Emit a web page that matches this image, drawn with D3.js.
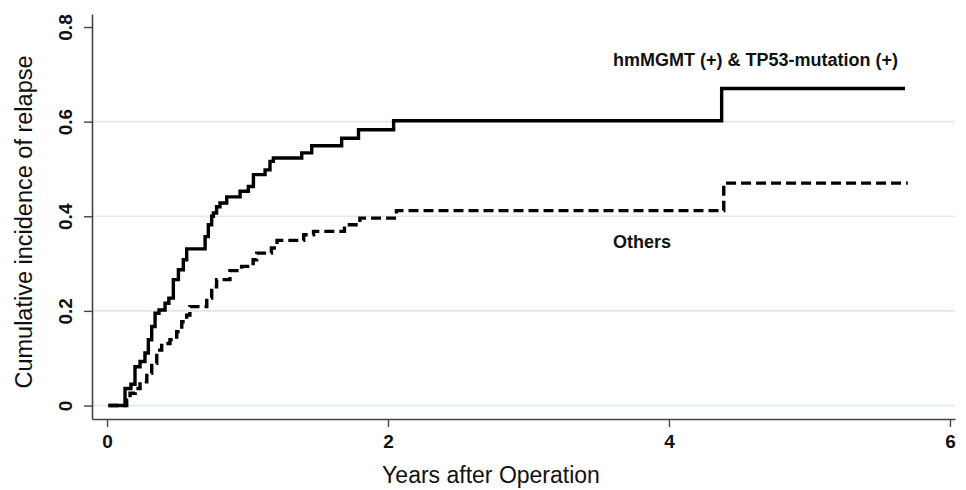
<!DOCTYPE html>
<html>
<head>
<meta charset="utf-8">
<script src="https://d3js.org/d3.v7.min.js"></script>
<style>
  body { margin: 0; background: #fff; }
  text { font-family: "Liberation Sans", Arial, sans-serif; fill: #111; }
</style>
</head>
<body>
<div class="chart-container"></div>
<script>
// step points for hmMGMT(+) & TP53-mutation(+)
var posYears = [0.01, 0.128, 0.17, 0.199, 0.235, 0.27, 0.294, 0.318, 0.342, 0.37, 0.413, 0.44, 0.472, 0.508, 0.543, 0.567,
  0.698, 0.721, 0.745, 0.757, 0.78, 0.804, 0.852, 0.947, 1.006, 1.042, 1.125, 1.16, 1.184, 1.386, 1.457, 1.67, 1.79, 2.04, 4.375, 5.68];
var posValues = [0, 0.036, 0.045, 0.082, 0.093, 0.111, 0.139, 0.167, 0.195, 0.202, 0.216, 0.227, 0.266, 0.287, 0.308, 0.331,
  0.357, 0.382, 0.400, 0.407, 0.42, 0.428, 0.441, 0.453, 0.463, 0.488, 0.498, 0.516, 0.523, 0.534, 0.549, 0.565, 0.583, 0.602, 0.670, 0.670];

// step points for Others
var othYears = [0.01, 0.14, 0.164, 0.2, 0.235, 0.283, 0.318, 0.354, 0.389, 0.448, 0.496, 0.532, 0.567, 0.59, 0.71, 0.745,
  0.78, 0.875, 0.958, 1.04, 1.065, 1.17, 1.21, 1.40, 1.47, 1.69, 1.80, 2.06, 4.39, 5.70];
var othValues = [0, 0.011, 0.026, 0.036, 0.05, 0.068, 0.089, 0.117, 0.131, 0.139, 0.156, 0.177, 0.191, 0.209, 0.227, 0.251,
  0.266, 0.285, 0.294, 0.308, 0.322, 0.333, 0.349, 0.361, 0.368, 0.382, 0.396, 0.412, 0.470, 0.470];

var xTicks = [0, 2, 4, 6];
var yTicks = [0, 0.2, 0.4, 0.6, 0.8];
var gridTicks = [0, 0.2, 0.4, 0.6];

var width = 966, height = 490;

var svg = d3.select(".chart-container").append("svg")
    .attr("width", width)
    .attr("height", height);

var x = d3.scaleLinear().domain([-0.107, 6.036]).range([92, 955]);
var y = d3.scaleLinear().domain([-0.0285, 0.8275]).range([419, 14]);

// gridlines
svg.append("g")
    .selectAll("line")
    .data(gridTicks)
    .enter().append("line")
    .attr("x1", 93)
    .attr("x2", 955)
    .attr("y1", function(d) { return y(d); })
    .attr("y2", function(d) { return y(d); })
    .attr("stroke", "#dde9ea")
    .attr("stroke-width", 1.6);

var yAxis = svg.append("g")
    .attr("transform", "translate(92,0)")
    .call(d3.axisLeft(y).tickValues(yTicks).tickSize(8).tickSizeOuter(0).tickFormat(d3.format("")));

var xAxis = svg.append("g")
    .attr("transform", "translate(0,419)")
    .call(d3.axisBottom(x).tickValues(xTicks).tickSize(8).tickSizeOuter(0).tickFormat(d3.format("d")));

[yAxis, xAxis].forEach(function(a) {
  a.select(".domain").attr("stroke", "#444").attr("stroke-width", 1.6);
  a.selectAll(".tick line").attr("stroke", "#444").attr("stroke-width", 1.4);
  a.selectAll("text")
      .style("font-family", "'Liberation Sans', Arial, sans-serif")
      .style("font-size", "19px")
      .style("font-weight", "bold")
      .attr("fill", "#111");
});

yAxis.selectAll(".tick text")
    .attr("x", 0)
    .attr("dy", 0)
    .attr("text-anchor", "middle")
    .attr("transform", "translate(-20,0) rotate(-90)");

xAxis.selectAll(".tick text")
    .attr("y", 16)
    .attr("dy", "0.71em");

var line = d3.line()
    .x(function(d) { return x(d[0]); })
    .y(function(d) { return y(d[1]); })
    .curve(d3.curveStepAfter);

var posData = d3.zip(posYears, posValues);
var othData = d3.zip(othYears, othValues);

svg.append("path")
    .datum(othData)
    .attr("fill", "none")
    .attr("stroke", "#000")
    .attr("stroke-width", 3.4)
    .attr("stroke-dasharray", "10,5")
    .attr("d", line);

svg.append("path")
    .datum(posData)
    .attr("fill", "none")
    .attr("stroke", "#000")
    .attr("stroke-width", 3.4)
    .attr("d", line);

svg.append("text")
    .attr("x", 613)
    .attr("y", 66)
    .style("font-size", "18px")
    .style("font-weight", "bold")
    .text("hmMGMT (+) & TP53-mutation (+)");

svg.append("text")
    .attr("x", 613)
    .attr("y", 248)
    .style("font-size", "18px")
    .style("font-weight", "bold")
    .text("Others");

svg.append("text")
    .attr("x", 491)
    .attr("y", 483)
    .attr("text-anchor", "middle")
    .style("font-size", "23px")
    .text("Years after Operation");

svg.append("text")
    .attr("transform", "translate(32,222) rotate(-90)")
    .attr("text-anchor", "middle")
    .style("font-size", "23.5px")
    .text("Cumulative incidence of relapse");
</script>
</body>
</html>
